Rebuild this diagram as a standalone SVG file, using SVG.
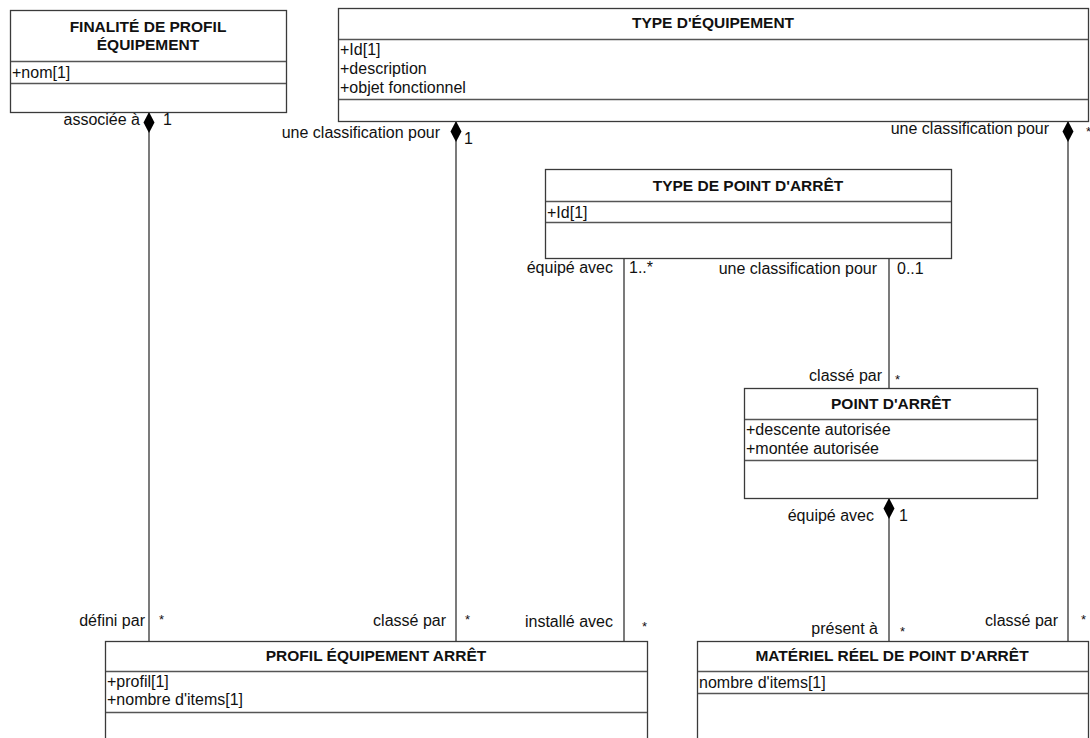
<svg xmlns="http://www.w3.org/2000/svg" width="1090" height="738" viewBox="0 0 1090 738">
  <style>
    .box { fill: #ffffff; stroke: #3a3a3a; stroke-width: 1.3; }
    .sep { stroke: #555555; stroke-width: 1.5; fill: none; }
    .title { font-family: "Liberation Sans", Arial, sans-serif; font-weight: bold; font-size: 15.5px; fill: #111; text-anchor: middle; }
    .attr { font-family: "Liberation Sans", Arial, sans-serif; font-size: 16px; fill: #111; }
    .lbl { font-family: "Liberation Sans", Arial, sans-serif; font-size: 16px; fill: #111; }
    .end { text-anchor: end; }
    .star { font-family: "Liberation Sans", Arial, sans-serif; font-size: 13px; fill: #111; }
    .link { stroke: #222; stroke-width: 1.2; fill: none; }
    .dia { fill: #000; stroke: none; }
  </style>
  <defs>
    <!-- composition diamond, tip at origin pointing up -->
    <path id="diamond" d="M0,0 L5.5,10.5 L0,21 L-5.5,10.5 Z"/>
  </defs>

  <rect width="1090" height="738" fill="#ffffff"/>

  <!-- associations -->
  <g id="connectors">
    <line class="link" x1="149" y1="112" x2="149" y2="641"/>
    <line class="link" x1="456" y1="121" x2="456" y2="641"/>
    <line class="link" x1="1068" y1="121" x2="1068" y2="641"/>
    <line class="link" x1="624" y1="258" x2="624" y2="641"/>
    <line class="link" x1="889" y1="258" x2="889" y2="388"/>
    <line class="link" x1="889" y1="498" x2="889" y2="641"/>
    <use href="#diamond" class="dia" x="149" y="112"/>
    <use href="#diamond" class="dia" x="456" y="121"/>
    <use href="#diamond" class="dia" x="1068" y="121"/>
    <use href="#diamond" class="dia" x="889" y="498"/>

    <text class="lbl end" x="140" y="125">associée à</text>
    <text class="lbl" x="163" y="125">1</text>
    <text class="lbl end" x="440" y="138">une classification pour</text>
    <text class="lbl" x="464" y="144">1</text>
    <text class="lbl end" x="1049" y="134">une classification pour</text>
    <text class="star" x="1086" y="136">*</text>

    <text class="lbl end" x="613" y="273">équipé avec</text>
    <text class="lbl" x="629" y="273">1..*</text>
    <text class="lbl end" x="877" y="274">une classification pour</text>
    <text class="lbl" x="897" y="274">0..1</text>

    <text class="lbl end" x="882" y="381">classé par</text>
    <text class="star" x="895" y="384">*</text>
    <text class="lbl end" x="874" y="521">équipé avec</text>
    <text class="lbl" x="899" y="521">1</text>

    <text class="lbl end" x="145" y="626">défini par</text>
    <text class="star" x="159" y="624">*</text>
    <text class="lbl end" x="446" y="626">classé par</text>
    <text class="star" x="465" y="624">*</text>
    <text class="lbl end" x="613" y="627">installé avec</text>
    <text class="star" x="642" y="631">*</text>
    <text class="lbl end" x="878" y="634">présent à</text>
    <text class="star" x="900" y="636">*</text>
    <text class="lbl end" x="1058" y="626">classé par</text>
    <text class="star" x="1081" y="624">*</text>
  </g>

  <g id="finalite-profil-equipement">
    <rect class="box" x="10.5" y="10.5" width="276" height="102"/>
    <text class="title" x="148" y="32">FINALITÉ DE PROFIL</text>
    <text class="title" x="148" y="50">ÉQUIPEMENT</text>
    <line class="sep" x1="11" y1="61.5" x2="286" y2="61.5"/>
    <text class="attr" x="12" y="78">+nom[1]</text>
    <line class="sep" x1="11" y1="83.5" x2="286" y2="83.5"/>
  </g>

  <g id="type-equipement">
    <rect class="box" x="338.5" y="8.5" width="750" height="113"/>
    <text class="title" x="713" y="28">TYPE D'ÉQUIPEMENT</text>
    <line class="sep" x1="339" y1="39.5" x2="1088" y2="39.5"/>
    <text class="attr" x="340" y="55">+Id[1]</text>
    <text class="attr" x="340" y="74">+description</text>
    <text class="attr" x="340" y="93">+objet fonctionnel</text>
    <line class="sep" x1="339" y1="99.5" x2="1088" y2="99.5"/>
  </g>

  <g id="type-point-arret">
    <rect class="box" x="545.5" y="169.5" width="406" height="89"/>
    <text class="title" x="748" y="191">TYPE DE POINT D'ARRÊT</text>
    <line class="sep" x1="546" y1="201.5" x2="951" y2="201.5"/>
    <text class="attr" x="547" y="218">+Id[1]</text>
    <line class="sep" x1="546" y1="222.5" x2="951" y2="222.5"/>
  </g>

  <g id="point-arret">
    <rect class="box" x="744.5" y="388.5" width="293" height="110"/>
    <text class="title" x="891" y="409">POINT D'ARRÊT</text>
    <line class="sep" x1="745" y1="419.5" x2="1037" y2="419.5"/>
    <text class="attr" x="746" y="435">+descente autorisée</text>
    <text class="attr" x="746" y="454">+montée autorisée</text>
    <line class="sep" x1="745" y1="460.5" x2="1037" y2="460.5"/>
  </g>

  <g id="profil-equipement-arret">
    <rect class="box" x="105.5" y="641.5" width="542" height="110"/>
    <text class="title" x="376" y="661">PROFIL ÉQUIPEMENT ARRÊT</text>
    <line class="sep" x1="106" y1="671.5" x2="647" y2="671.5"/>
    <text class="attr" x="107" y="687">+profil[1]</text>
    <text class="attr" x="107" y="705">+nombre d'items[1]</text>
    <line class="sep" x1="106" y1="712.5" x2="647" y2="712.5"/>
  </g>

  <g id="materiel-reel-point-arret">
    <rect class="box" x="697.5" y="641.5" width="391" height="110"/>
    <text class="title" x="892" y="661">MATÉRIEL RÉEL DE POINT D'ARRÊT</text>
    <line class="sep" x1="698" y1="671.5" x2="1088" y2="671.5"/>
    <text class="attr" x="699" y="688">nombre d'items[1]</text>
    <line class="sep" x1="698" y1="693.5" x2="1088" y2="693.5"/>
  </g>
</svg>
